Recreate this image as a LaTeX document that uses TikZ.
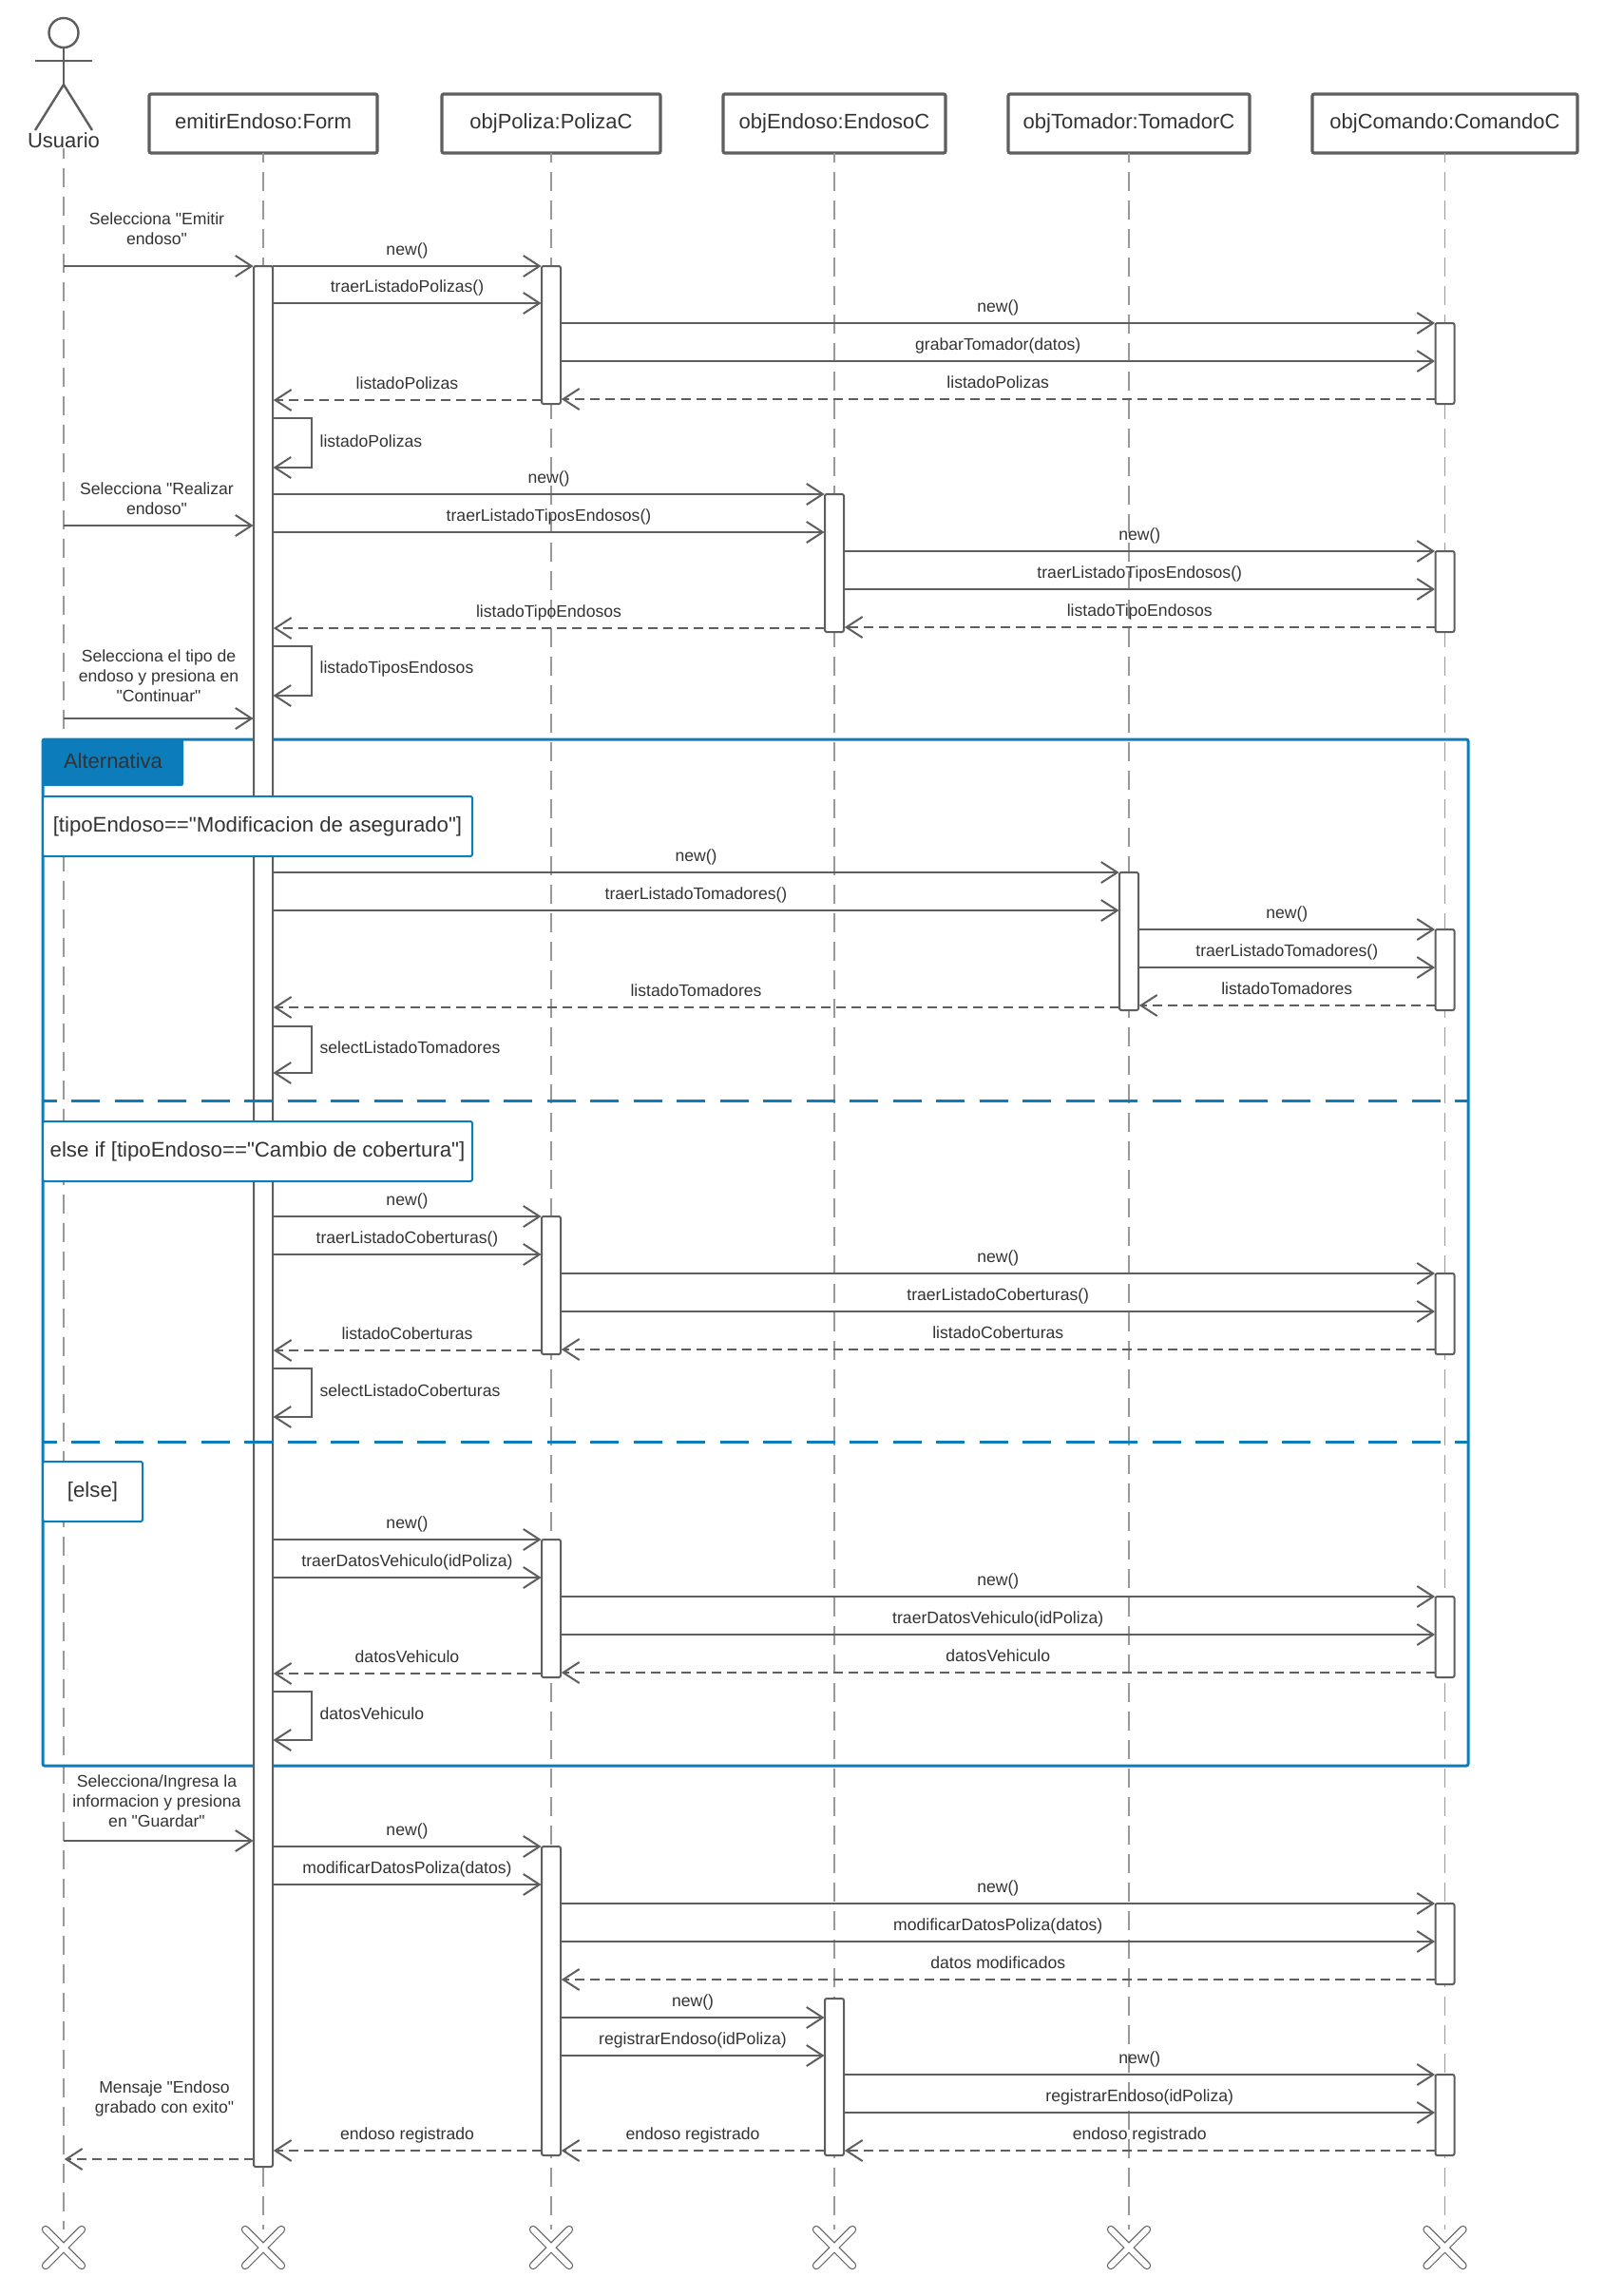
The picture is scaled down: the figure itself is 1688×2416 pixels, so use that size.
\documentclass[tikz,border=0pt]{standalone}
\usepackage{fontspec}
\newfontfamily\diagfont{Liberation Sans}
\usepackage{xcolor}
\usepackage{tikz}
\usetikzlibrary{shapes.misc, arrows.meta, positioning}
\definecolor{linegray}{HTML}{5E5E5E}
\definecolor{lifegray}{HTML}{999999}
\definecolor{textgray}{HTML}{333333}
\definecolor{altblue}{HTML}{0C7CBA}

\begin{document}
\begin{tikzpicture}[
    x=0.5pt, y=-0.5pt,
    object/.style={rectangle, draw=linegray, fill=white, line width=1.6pt, rounded corners=1pt, minimum height=31pt, inner sep=0pt, outer sep=0pt, text=textgray, text height=8pt, text depth=2.4pt, font=\diagfont\fontsize{11}{13}\selectfont},
    actorline/.style={draw=linegray, line width=1.2pt},
    lifeline/.style={draw=lifegray, line width=0.8pt, dash pattern=on 10pt off 5pt, dash phase=4.85pt},
    endmark/.style={cross out, draw=linegray, double=white, double distance=3pt, line width=0.6pt, line cap=round, minimum size=19pt, inner sep=0pt, outer sep=0pt},
    actbar/.style={rectangle, draw=linegray, fill=white, line width=1pt, rounded corners=1pt, minimum width=10pt, inner sep=0pt, outer sep=0pt, anchor=north},
    altframe/.style={rectangle, draw=altblue, line width=1.5pt, rounded corners=1pt, inner sep=0pt, outer sep=0pt, anchor=north west},
    alttag/.style={rectangle, fill=altblue, rounded corners=1pt, inner sep=0pt, outer sep=0pt, anchor=north west, text=textgray, text depth=1.5pt, font=\diagfont\fontsize{11}{13}\selectfont},
    guardbox/.style={rectangle, draw=altblue, fill=white, line width=1pt, rounded corners=1pt, inner sep=0pt, outer sep=0pt, anchor=north west, minimum height=31.5pt, text=textgray, font=\diagfont\fontsize{11.1}{13}\selectfont},
    splitline/.style={draw=altblue, line width=1.5pt, dash pattern=on 15pt off 7.75pt, dash phase=7.75pt},
    msg/.style={-{Straight Barb[length=8.5pt, width=11pt]}, draw=linegray, line width=1pt, shorten >=0.2pt},
    reply/.style={msg, dash pattern=on 5pt off 3pt, shorten >=0.4pt},
    msglabel/.style={midway, above=3.4pt, inner sep=0pt, align=center, text depth=2pt, text=textgray, font=\diagfont\fontsize{8.8}{10.5}\selectfont},
    looplabel/.style={midway, right=3.8pt, yshift=1pt, inner sep=0pt, text=textgray, font=\diagfont\fontsize{8.8}{10.4}\selectfont}
]
    \useasboundingbox (0,0) rectangle (1688,2416);

    % Actor
    \node (head) [circle, draw=linegray, line width=1.2pt, minimum size=15.5pt, inner sep=0pt, outer sep=0pt] at (67,34.5) {};
    \coordinate (hip) at (67,89);
    \coordinate (armL) at (37,64);
    \coordinate (armR) at (97,64);
    \coordinate (footL) at (37,137);
    \coordinate (footR) at (97,137);
    \node (usuario) [inner sep=0pt, text=textgray, font=\diagfont\fontsize{11}{13}\selectfont] at (67,148) {Usuario};
    \draw [actorline] (head) -- (hip);
    \draw [actorline] (armL) -- (armR);
    \draw [actorline] (footL) -- (hip) -- (footR);

    % Objects
    \node (form) [object, minimum width=120pt] at (277,130) {emitirEndoso:Form};
    \node (poliza) [object, minimum width=115pt, right=34pt of form] {objPoliza:PolizaC};
    \node (endoso) [object, minimum width=117pt, right=33pt of poliza] {objEndoso:EndosoC};
    \node (tomador) [object, minimum width=127pt, right=33pt of endoso] {objTomador:TomadorC};
    \node (comando) [object, minimum width=139.5pt, right=33pt of tomador] {objComando:ComandoC};

    % Lifelines and their ends
    \node (endUsuario) [endmark] at (67,2365) {};
    \draw [lifeline] (usuario.south) -- (endUsuario.north);
    \foreach \who/\whoend in {form/endForm, poliza/endPoliza, endoso/endEndoso, tomador/endTomador, comando/endComando} {
        \node (\whoend) [endmark] at (\who |- 0,2365) {};
        \draw [lifeline] (\who.south) -- (\whoend.north);
    }

    % Alternative frame
    \node (alt) [altframe, minimum width=750pt, minimum height=540pt] at (45,778) {};
    \node (altTag) [alttag, minimum width=74pt, minimum height=24.5pt] at (alt.north west) {Alternativa};

    % Activation bars
    \node (barForm) [actbar, minimum height=1000pt] at (form |- 0,280) {};
    \node (barPolizaA) [actbar, minimum height=72.5pt] at (poliza |- 0,280) {};
    \node (barComandoA) [actbar, minimum height=42.5pt] at (comando |- 0,340) {};
    \node (barEndosoA) [actbar, minimum height=72.5pt] at (endoso |- 0,520) {};
    \node (barComandoB) [actbar, minimum height=42.5pt] at (comando |- 0,580) {};
    \node (barTomador) [actbar, minimum height=72.5pt] at (tomador |- 0,918) {};
    \node (barComandoC) [actbar, minimum height=42.5pt] at (comando |- 0,978) {};
    \node (barPolizaB) [actbar, minimum height=72.5pt] at (poliza |- 0,1280) {};
    \node (barComandoD) [actbar, minimum height=42.5pt] at (comando |- 0,1340) {};
    \node (barPolizaC) [actbar, minimum height=72.5pt] at (poliza |- 0,1620) {};
    \node (barComandoE) [actbar, minimum height=42.5pt] at (comando |- 0,1680) {};
    \node (barPolizaD) [actbar, minimum height=162.5pt] at (poliza |- 0,1943) {};
    \node (barComandoF) [actbar, minimum height=42.5pt] at (comando |- 0,2003) {};
    \node (barEndosoB) [actbar, minimum height=82.5pt] at (endoso |- 0,2103) {};
    \node (barComandoG) [actbar, minimum height=42.5pt] at (comando |- 0,2183) {};

    % Separators and guards
    \draw [splitline] (alt.west |- 0,1158) -- (alt.east |- 0,1158);
    \draw [splitline] (alt.west |- 0,1517) -- (alt.east |- 0,1517);
    \node (guardA) [guardbox, minimum width=226pt] at (45,838) {[tipoEndoso=="Modificacion de asegurado"]};
    \node (guardB) [guardbox, minimum width=226pt] at (45,1180) {else if [tipoEndoso=="Cambio de cobertura"]};
    \node (guardC) [guardbox, minimum width=52.5pt] at (45,1538) {[else]};

    % Listado de polizas
    \draw [msg] (usuario |- 0,280) -- node [msglabel, xshift=-1pt, yshift=5.5pt] {Selecciona "Emitir\\endoso"} (barForm.west |- 0,280);
    \draw [msg] (barForm.east |- 0,280) -- node [msglabel] {new()} (barPolizaA.west |- 0,280);
    \draw [msg] (barForm.east |- 0,319) -- node [msglabel] {traerListadoPolizas()} (barPolizaA.west |- 0,319);
    \draw [msg] (barPolizaA.east |- 0,340) -- node [msglabel] {new()} (barComandoA.west |- 0,340);
    \draw [msg] (barPolizaA.east |- 0,380) -- node [msglabel] {grabarTomador(datos)} (barComandoA.west |- 0,380);
    \draw [reply] (barComandoA.west |- 0,420) -- node [msglabel] {listadoPolizas} (barPolizaA.east |- 0,420);
    \draw [reply] (barPolizaA.west |- 0,421) -- node [msglabel] {listadoPolizas} (barForm.east |- 0,421);
    \draw [msg] (barForm.east |- 0,440) -- ++(41,0) -- node [looplabel] {listadoPolizas} ++(0,52) -- (barForm.east |- 0,492);

    % Listado de tipos
    \draw [msg] (usuario |- 0,553) -- node [msglabel, xshift=-1pt] {Selecciona "Realizar\\endoso"} (barForm.west |- 0,553);
    \draw [msg] (barForm.east |- 0,520) -- node [msglabel] {new()} (barEndosoA.west |- 0,520);
    \draw [msg] (barForm.east |- 0,560) -- node [msglabel] {traerListadoTiposEndosos()} (barEndosoA.west |- 0,560);
    \draw [msg] (barEndosoA.east |- 0,580) -- node [msglabel] {new()} (barComandoB.west |- 0,580);
    \draw [msg] (barEndosoA.east |- 0,620) -- node [msglabel] {traerListadoTiposEndosos()} (barComandoB.west |- 0,620);
    \draw [reply] (barComandoB.west |- 0,660) -- node [msglabel] {listadoTipoEndosos} (barEndosoA.east |- 0,660);
    \draw [reply] (barEndosoA.west |- 0,661) -- node [msglabel] {listadoTipoEndosos} (barForm.east |- 0,661);
    \draw [msg] (barForm.east |- 0,680) -- ++(41,0) -- node [looplabel] {listadoTiposEndosos} ++(0,52) -- (barForm.east |- 0,732);
    \draw [msg] (usuario |- 0,756) -- node [msglabel, yshift=3pt] {Selecciona el tipo de\\endoso y presiona en\\"Continuar"} (barForm.west |- 0,756);

    % Modificacion de asegurado
    \draw [msg] (barForm.east |- 0,918) -- node [msglabel] {new()} (barTomador.west |- 0,918);
    \draw [msg] (barForm.east |- 0,958) -- node [msglabel] {traerListadoTomadores()} (barTomador.west |- 0,958);
    \draw [msg] (barTomador.east |- 0,978) -- node [msglabel] {new()} (barComandoC.west |- 0,978);
    \draw [msg] (barTomador.east |- 0,1018) -- node [msglabel] {traerListadoTomadores()} (barComandoC.west |- 0,1018);
    \draw [reply] (barComandoC.west |- 0,1058) -- node [msglabel] {listadoTomadores} (barTomador.east |- 0,1058);
    \draw [reply] (barTomador.west |- 0,1060) -- node [msglabel] {listadoTomadores} (barForm.east |- 0,1060);
    \draw [msg] (barForm.east |- 0,1080) -- ++(41,0) -- node [looplabel] {selectListadoTomadores} ++(0,49) -- (barForm.east |- 0,1129);

    % Cambio de cobertura
    \draw [msg] (barForm.east |- 0,1280) -- node [msglabel] {new()} (barPolizaB.west |- 0,1280);
    \draw [msg] (barForm.east |- 0,1320) -- node [msglabel] {traerListadoCoberturas()} (barPolizaB.west |- 0,1320);
    \draw [msg] (barPolizaB.east |- 0,1340) -- node [msglabel] {new()} (barComandoD.west |- 0,1340);
    \draw [msg] (barPolizaB.east |- 0,1380) -- node [msglabel] {traerListadoCoberturas()} (barComandoD.west |- 0,1380);
    \draw [reply] (barComandoD.west |- 0,1420) -- node [msglabel] {listadoCoberturas} (barPolizaB.east |- 0,1420);
    \draw [reply] (barPolizaB.west |- 0,1421) -- node [msglabel] {listadoCoberturas} (barForm.east |- 0,1421);
    \draw [msg] (barForm.east |- 0,1440) -- ++(41,0) -- node [looplabel] {selectListadoCoberturas} ++(0,51) -- (barForm.east |- 0,1491);

    % Otros endosos
    \draw [msg] (barForm.east |- 0,1620) -- node [msglabel] {new()} (barPolizaC.west |- 0,1620);
    \draw [msg] (barForm.east |- 0,1660) -- node [msglabel] {traerDatosVehiculo(idPoliza)} (barPolizaC.west |- 0,1660);
    \draw [msg] (barPolizaC.east |- 0,1680) -- node [msglabel] {new()} (barComandoE.west |- 0,1680);
    \draw [msg] (barPolizaC.east |- 0,1720) -- node [msglabel] {traerDatosVehiculo(idPoliza)} (barComandoE.west |- 0,1720);
    \draw [reply] (barComandoE.west |- 0,1760) -- node [msglabel] {datosVehiculo} (barPolizaC.east |- 0,1760);
    \draw [reply] (barPolizaC.west |- 0,1761) -- node [msglabel] {datosVehiculo} (barForm.east |- 0,1761);
    \draw [msg] (barForm.east |- 0,1780) -- ++(41,0) -- node [looplabel] {datosVehiculo} ++(0,51) -- (barForm.east |- 0,1831);

    % Guardar
    \draw [msg] (usuario |- 0,1937) -- node [msglabel, xshift=-1pt, yshift=1.5pt] {Selecciona/Ingresa la\\informacion y presiona\\en "Guardar"} (barForm.west |- 0,1937);
    \draw [msg] (barForm.east |- 0,1943) -- node [msglabel] {new()} (barPolizaD.west |- 0,1943);
    \draw [msg] (barForm.east |- 0,1983) -- node [msglabel] {modificarDatosPoliza(datos)} (barPolizaD.west |- 0,1983);
    \draw [msg] (barPolizaD.east |- 0,2003) -- node [msglabel] {new()} (barComandoF.west |- 0,2003);
    \draw [msg] (barPolizaD.east |- 0,2043) -- node [msglabel] {modificarDatosPoliza(datos)} (barComandoF.west |- 0,2043);
    \draw [reply] (barComandoF.west |- 0,2083) -- node [msglabel] {datos modificados} (barPolizaD.east |- 0,2083);
    \draw [msg] (barPolizaD.east |- 0,2123) -- node [msglabel] {new()} (barEndosoB.west |- 0,2123);
    \draw [msg] (barPolizaD.east |- 0,2163) -- node [msglabel] {registrarEndoso(idPoliza)} (barEndosoB.west |- 0,2163);
    \draw [msg] (barEndosoB.east |- 0,2183) -- node [msglabel] {new()} (barComandoG.west |- 0,2183);
    \draw [msg] (barEndosoB.east |- 0,2223) -- node [msglabel] {registrarEndoso(idPoliza)} (barComandoG.west |- 0,2223);
    \draw [reply] (barComandoG.west |- 0,2263) -- node [msglabel] {endoso registrado} (barEndosoB.east |- 0,2263);
    \draw [reply] (barEndosoB.west |- 0,2263) -- node [msglabel] {endoso registrado} (barPolizaD.east |- 0,2263);
    \draw [reply] (barPolizaD.west |- 0,2263) -- node [msglabel] {endoso registrado} (barForm.east |- 0,2263);
    \draw [reply] (barForm.west |- 0,2272) -- node [msglabel, xshift=3pt, yshift=18.5pt] {Mensaje "Endoso\\grabado con exito"} (usuario |- 0,2272);

\end{tikzpicture}
\end{document}
